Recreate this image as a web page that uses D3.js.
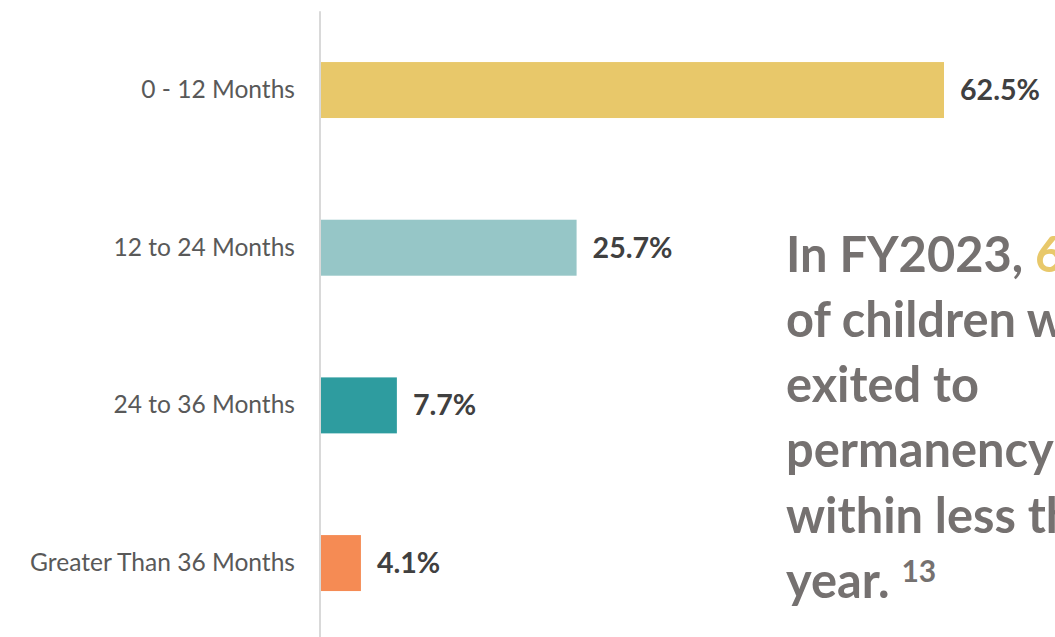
<!DOCTYPE html>
<html><head><meta charset="utf-8">
<script src="https://cdn.jsdelivr.net/npm/d3@7"></script>
<style>html,body{margin:0;padding:0;background:#fff;overflow:hidden}</style>
</head><body>
<svg id="c" width="1055" height="637"></svg>
<script>
const categories = ["0 - 12 Months", "12 to 24 Months", "24 to 36 Months", "Greater Than 36 Months"];
const values = [62.5, 25.7, 7.7, 4.1];
const colors = ["#E8C86A", "#96C6C7", "#2E9C9F", "#F58B54"];
const calloutLines = [
  [{t:"In FY2023, ", c:"#757170"}, {t:"62.5%", c:"#E8C86A"}],
  [{t:"of children who", c:"#757170"}],
  [{t:"exited to", c:"#757170"}],
  [{t:"permanency", c:"#757170"}],
  [{t:"within less than one", c:"#757170"}],
  [{t:"year. ", c:"#757170"}, {t:"13", c:"#757170", sup:true}]
];
const FONT = "Lato, 'Open Sans', sans-serif";
const svg = d3.select("#c");
const x = d3.scaleLinear().domain([0, 100]).range([320, 1318.4]);
const y = d3.scaleBand().domain(categories).range([11.2, 641.9]).paddingInner(0.645).paddingOuter(0.3225);

// helper: fit font size to a target width
function fit(text, weight, target, base) {
  const t = svg.append("text").attr("font-family", FONT).attr("font-weight", weight).attr("font-size", base).text(text);
  const w = t.node().getComputedTextLength();
  t.remove();
  return base * target / w;
}
const labelSize = fit("Greater Than 36 Months", 400, 265, 20);
const valueSize = fit("62.5%", 700, 80, 24);
const bigSize = fit("exited to", 700, 193, 50);

svg.selectAll("rect.bar").data(values).enter().append("rect")
  .attr("x", x(0)).attr("y", (d,i) => y(categories[i]))
  .attr("width", d => x(d) - x(0)).attr("height", y.bandwidth())
  .attr("fill", (d,i) => colors[i]);

// axis line
const axis = d3.axisLeft(y).tickSize(0).tickPadding(25);
const g = svg.append("g").attr("transform", `translate(${x(0)},0)`).call(axis);
g.select(".domain").attr("stroke", "#D9D9D9").attr("stroke-width", 2).attr("d", `M0,11.2V637`);
g.selectAll(".tick text").attr("font-family", FONT).attr("font-size", labelSize).attr("fill", "#595959");

svg.selectAll("text.val").data(values).enter().append("text")
  .attr("x", d => x(d) + 16).attr("y", (d,i) => y(categories[i]) + y.bandwidth()/2)
  .attr("dy", "0.35em").attr("font-family", FONT).attr("font-weight", 700)
  .attr("font-size", valueSize).attr("fill", "#404040")
  .text(d => d.toFixed(1) + "%");

const baselines = [272, 337, 402, 467, 533, 598];
const callout = svg.append("text").attr("font-family", FONT).attr("font-weight", 700).attr("font-size", bigSize);
calloutLines.forEach((line, i) => {
  line.forEach((seg, j) => {
    const ts = callout.append("tspan").attr("fill", seg.c).text(seg.t);
    if (j === 0) ts.attr("x", 786).attr("y", baselines[i]);
    if (seg.sup) ts.attr("font-size", 30).attr("dy", -16);
  });
});
</script>
</body></html>
